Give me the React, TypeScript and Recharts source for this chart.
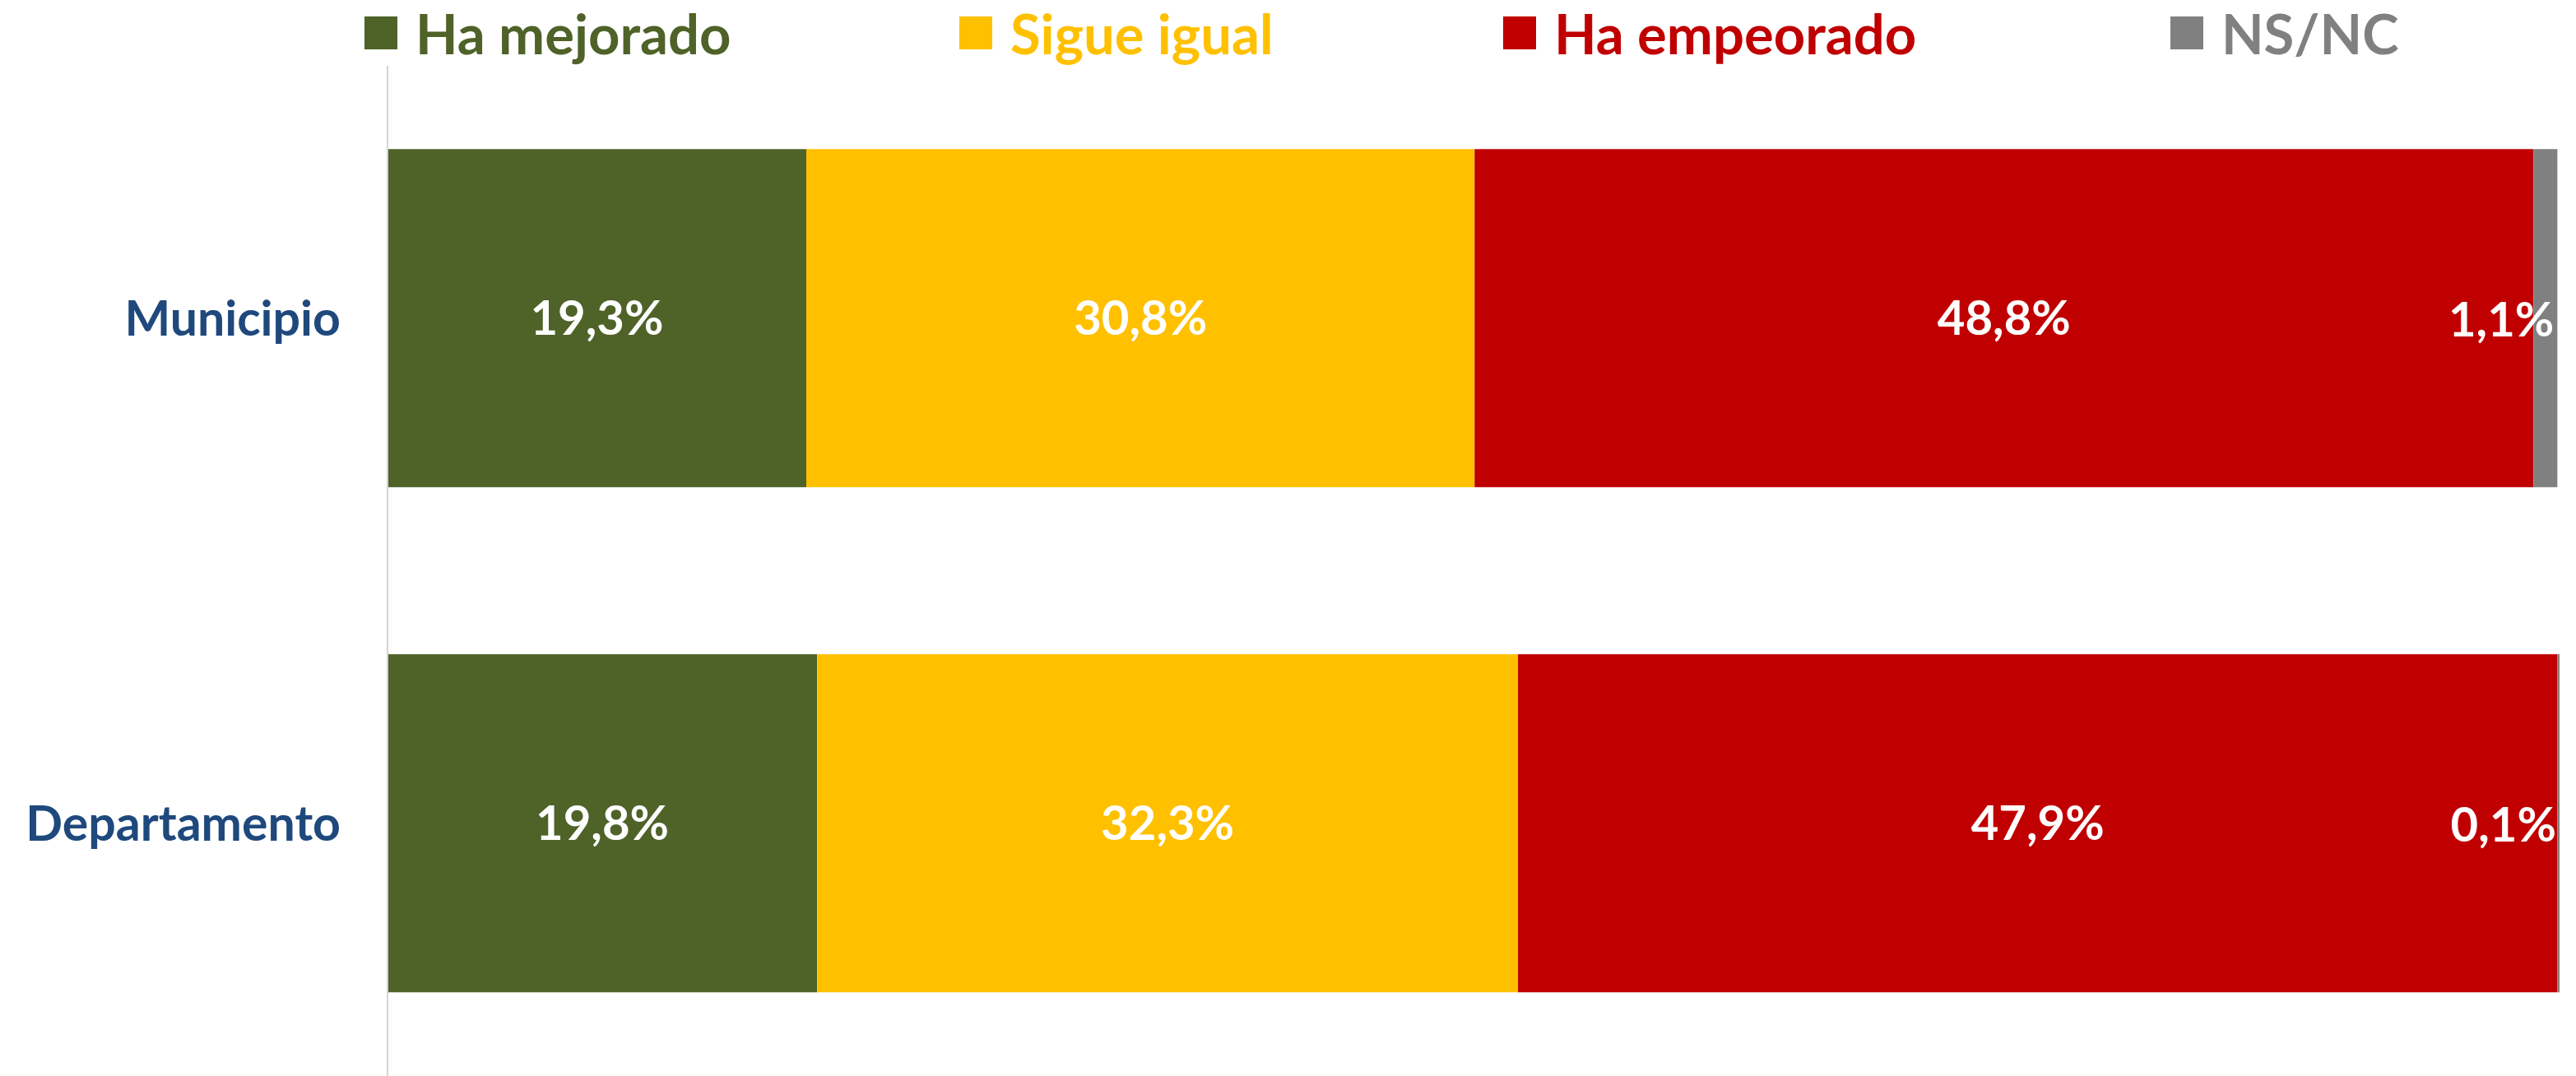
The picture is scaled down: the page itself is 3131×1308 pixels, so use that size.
import { Bar, BarChart, LabelList, Legend, XAxis, YAxis } from 'recharts';

const categories = ['Municipio', 'Departamento'];
const mejorado = [19.3, 19.8];
const igual = [30.8, 32.3];
const empeorado = [48.8, 47.9];
const nsnc = [1.1, 0.1];

const SERIES = [
  { key: 'mejorado', name: 'Ha mejorado', color: '#4F6228' },
  { key: 'igual', name: 'Sigue igual', color: '#FFC000' },
  { key: 'empeorado', name: 'Ha empeorado', color: '#C00000' },
  { key: 'nsnc', name: 'NS/NC', color: '#808080' },
];

const FONT = 'Lato, "Open Sans", sans-serif';
const LEGEND_WIDTHS = [723, 661, 811, 400];

const data = categories.map((name, i) => ({
  name,
  mejorado: mejorado[i],
  igual: igual[i],
  empeorado: empeorado[i],
  nsnc: nsnc[i],
}));

const fmt = (v: any) => `${Number(v).toFixed(1).replace('.', ',')}%`;

function LegendBox() {
  return (
    <div style={{ display: 'flex', height: 80, paddingLeft: 443, fontFamily: FONT, alignItems: 'center' }}>
      {SERIES.map((s, i) => (
        <div key={s.key} style={{ display: 'flex', alignItems: 'center', width: LEGEND_WIDTHS[i] }}>
          <span style={{ width: 40, height: 40, background: s.color, display: 'inline-block', marginRight: 22 }} />
          <span style={{ color: s.color, fontSize: 67, fontWeight: 700, lineHeight: '84px' }}>{s.name}</span>
        </div>
      ))}
    </div>
  );
}

function EndLabel(props: any) {
  const { x, y, width, height, value } = props;
  return (
    <text
      x={x + width - 4}
      y={y + height / 2}
      textAnchor="end"
      dominantBaseline="central"
      fill="#ffffff"
      fontSize={58}
      fontWeight={700}
      fontFamily={FONT}
    >
      {fmt(value)}
    </text>
  );
}

export default function App() {
  return (
    <div style={{ position: 'absolute', left: 0, top: 0, background: '#fff' }}>
      <BarChart
        width={3131}
        height={1308}
        data={data}
        layout="vertical"
        margin={{ top: 0, right: 20, left: 0, bottom: 0 }}
        barCategoryGap="16.5%"
      >
        <XAxis type="number" hide domain={[0, 'dataMax']} />
        <YAxis
          type="category"
          dataKey="name"
          width={471}
          tickLine={false}
          tickSize={0}
          tickMargin={57}
          axisLine={{ stroke: '#D4D4D4', strokeWidth: 2 }}
          tick={{ fill: '#1F497D', fontSize: 59, fontWeight: 700, fontFamily: FONT }}
        />
        <Legend verticalAlign="top" align="left" content={() => <LegendBox />} />
        {SERIES.map((s) => (
          <Bar key={s.key} dataKey={s.key} name={s.name} stackId="a" fill={s.color} isAnimationActive={false}>
            {s.key === 'nsnc' ? (
              <LabelList dataKey={s.key} content={EndLabel} />
            ) : (
              <LabelList
                dataKey={s.key}
                position="center"
                formatter={fmt}
                fill="#ffffff"
                fontSize={58}
                fontWeight={700}
                fontFamily={FONT}
              />
            )}
          </Bar>
        ))}
      </BarChart>
    </div>
  );
}
